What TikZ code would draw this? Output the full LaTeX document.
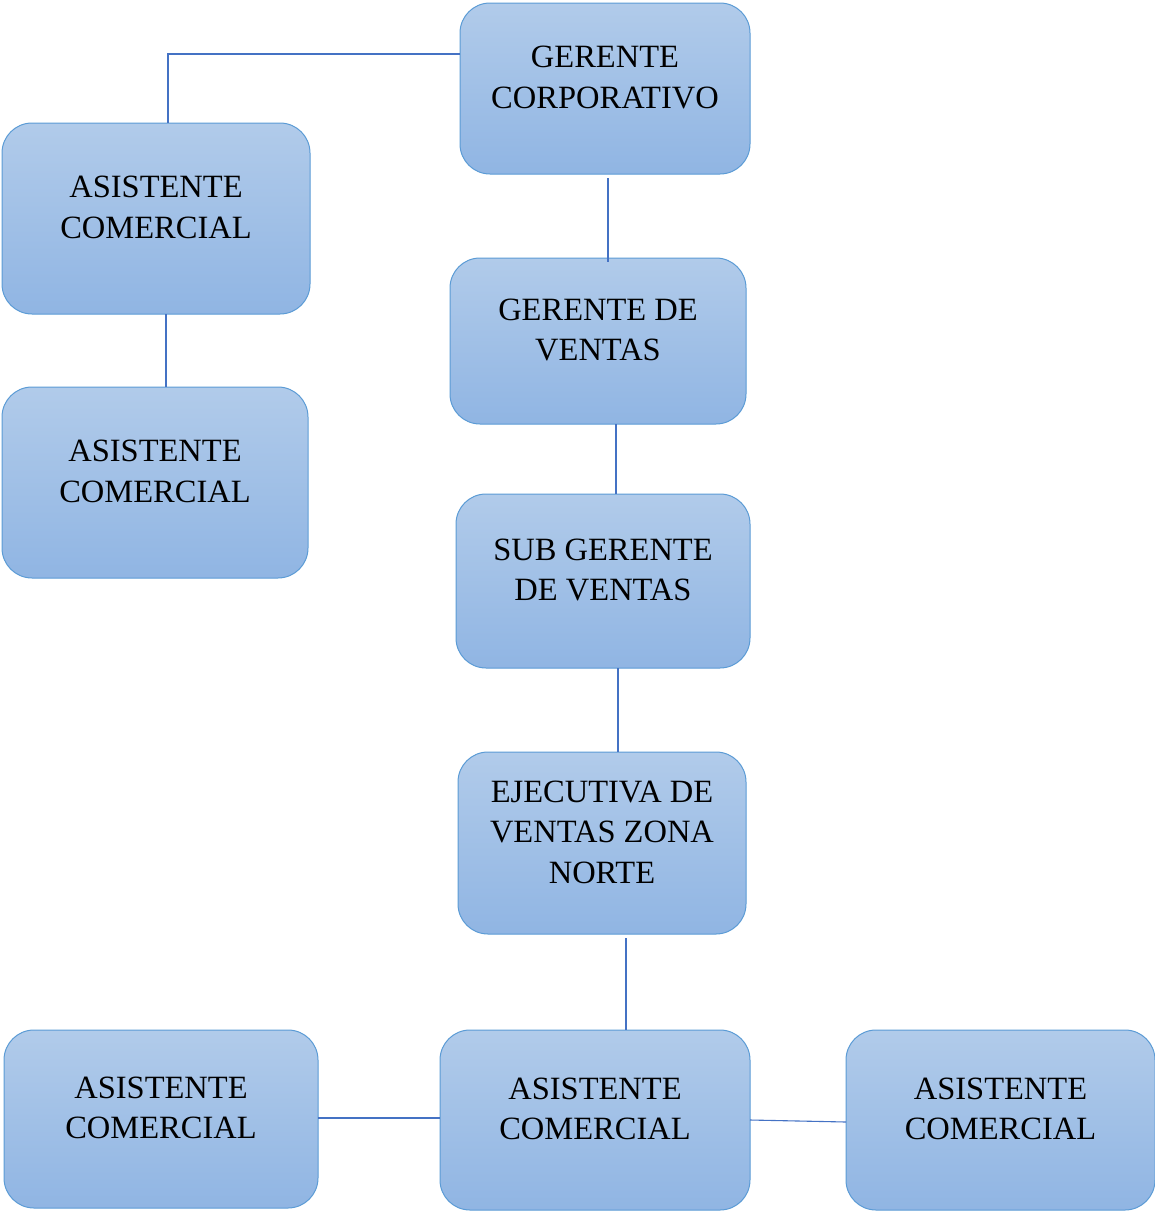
\documentclass[tikz,border=0pt]{standalone}
\usepackage{fontspec}
\setmainfont{Liberation Serif}
\definecolor{boxtop}{HTML}{B1CBEA}
\definecolor{boxbot}{HTML}{90B5E3}
\definecolor{boxedge}{HTML}{5B9BD5}
\definecolor{linkc}{HTML}{4472C4}
\begin{document}
\begin{tikzpicture}[x=1pt,y=-1pt,
  orgbox/.style={draw=boxedge,line width=1pt,rounded corners=30pt,top color=boxtop,bottom color=boxbot,inner sep=0pt,outer sep=0pt},
  orgtext/.style={align=center,font=\fontsize{32.5}{40.5}\selectfont,text=black,inner sep=0pt},
  link/.style={draw=linkc,line width=1.1pt}]
\useasboundingbox (0,0) rectangle (1155,1211);
\node[orgbox,minimum width=290pt,minimum height=171pt] (gc) at (605,88.5) {};
\node[orgbox,minimum width=308pt,minimum height=191pt] (a1) at (156,218.5) {};
\node[orgbox,minimum width=306pt,minimum height=191pt] (a2) at (155,482.5) {};
\node[orgbox,minimum width=296pt,minimum height=166pt] (gv) at (598,341) {};
\node[orgbox,minimum width=294pt,minimum height=174pt] (sg) at (603,581) {};
\node[orgbox,minimum width=288pt,minimum height=182pt] (ej) at (602,843) {};
\node[orgbox,minimum width=314pt,minimum height=178pt] (bl) at (161,1119) {};
\node[orgbox,minimum width=310pt,minimum height=180pt] (bm) at (595,1120) {};
\node[orgbox,minimum width=309pt,minimum height=180pt] (br) at (1000.5,1120) {};
\node[orgtext] (tgc) at ([yshift=11pt]gc.center) {GERENTE\\CORPORATIVO};
\node[orgtext] (ta1) at ([yshift=11pt]a1.center) {ASISTENTE\\COMERCIAL};
\node[orgtext] (ta2) at ([yshift=11pt]a2.center) {ASISTENTE\\COMERCIAL};
\node[orgtext] (tgv) at ([yshift=11pt]gv.center) {GERENTE DE\\VENTAS};
\node[orgtext] (tsg) at ([yshift=11pt]sg.center) {SUB GERENTE\\DE VENTAS};
\node[orgtext] (tej) at ([yshift=11pt]ej.center) {EJECUTIVA DE\\VENTAS ZONA\\NORTE};
\node[orgtext] (tbl) at ([yshift=11pt]bl.center) {ASISTENTE\\COMERCIAL};
\node[orgtext] (tbm) at ([yshift=11pt]bm.center) {ASISTENTE\\COMERCIAL};
\node[orgtext] (tbr) at ([yshift=11pt]br.center) {ASISTENTE\\COMERCIAL};
\draw[link] ([yshift=34.5pt]gc.west) -| ([xshift=12pt]a1.north);
\draw[link] ([xshift=3pt,yshift=-4pt]gc.south) -- ([xshift=10pt,yshift=-4pt]gv.north);
\draw[link] ([xshift=10pt]a1.south) -- ([xshift=11pt]a2.north);
\draw[link] ([xshift=18pt]gv.south) -- ([xshift=13pt]sg.north);
\draw[link] ([xshift=15pt]sg.south) -- ([xshift=16pt]ej.north);
\draw[link] ([xshift=24pt,yshift=-4pt]ej.south) -- ([xshift=31pt]bm.north);
\draw[link] ([yshift=1pt]bl.east) -- ([yshift=2pt]bm.west);
\draw[link] (bm.east) -- ([yshift=-2pt]br.west);
\end{tikzpicture}
\end{document}
